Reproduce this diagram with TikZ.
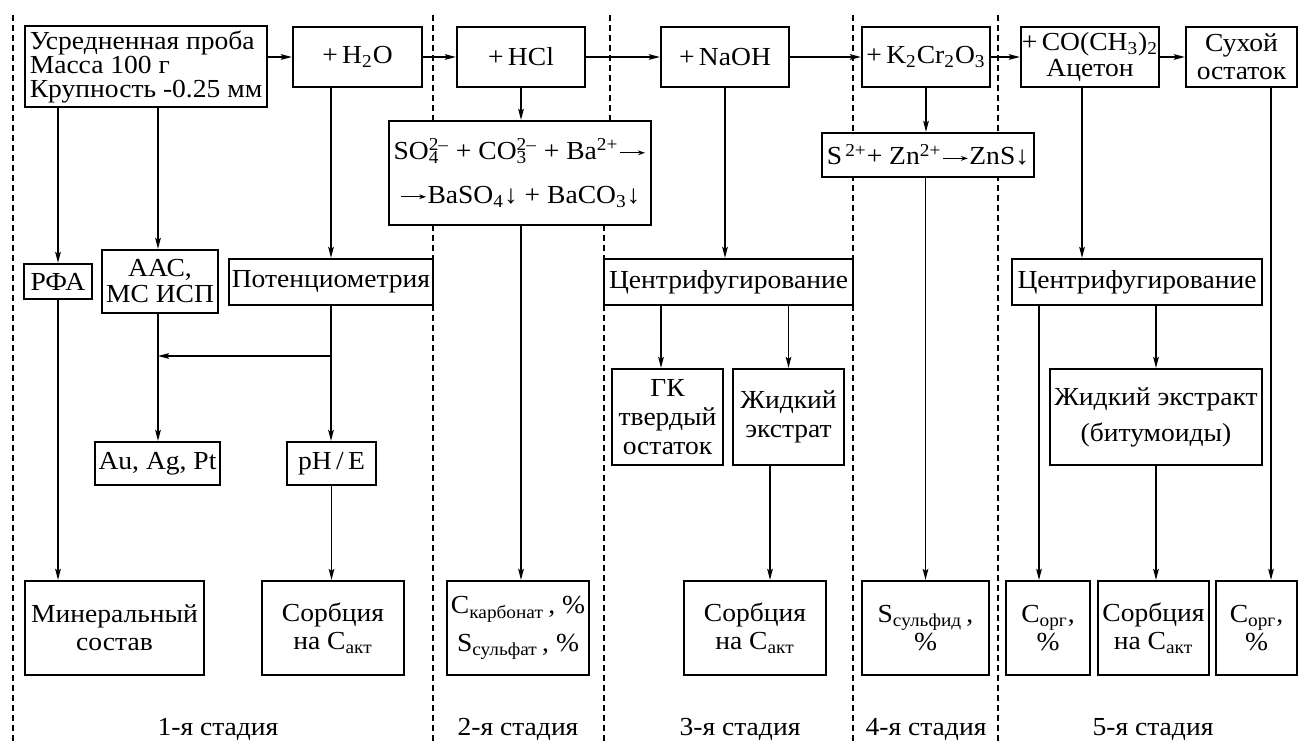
\documentclass[tikz,border=0pt]{standalone}
\usepackage{fontspec}
\setmainfont{Liberation Serif}[FakeStretch=1.06]
\usetikzlibrary{arrows.meta}
\newcommand\myfs{\fontsize{13}{14}\selectfont}
\newcommand\supsub[2]{\setbox0=\hbox{\textsuperscript{#1}}\setbox2=\hbox{\textsubscript{#2}}\ifdim\wd0>\wd2 \rlap{\box2}\box0 \else\rlap{\box0}\box2 \fi}
\newcommand\rarr{\kern0.5pt\tikz[baseline=0pt]\draw[line width=0.5pt,-{Stealth[length=3.5pt,width=2.4pt]}] (0pt,3.3pt) -- (12.5pt,3.3pt);\kern0.5pt}
\newcommand\mybox[7]{\pgfmathsetmacro\myw{(#4-#2)*0.5}\pgfmathsetmacro\myh{(#5-#3)*0.5}%
  \node[box,#6,minimum width=\myw pt,minimum height=\myh pt] (#1) at ({(#2+#4)/2},{(#3+#5)/2}) {#7};}
\tikzset{
  box/.style={draw, line width=1.1pt, fill=white, inner sep=0pt, align=center, font=\myfs},
  arr/.style={line width=0.7pt, -{Stealth[length=5.5pt,width=2.8pt,inset=1pt]}},
  sep/.style={line width=1pt, dash pattern=on 3pt off 2pt},
  stage/.style={font=\myfs, anchor=base, inner sep=0pt}
}
\begin{document}
\begin{tikzpicture}[x=0.5pt,y=-0.5pt]
\useasboundingbox (0,0) rectangle (1299,744);
% stage separators
\draw[sep] (13,15) -- (13,744);
\draw[sep] (433,15) -- (433,744);
\draw[sep] (610,15) -- (610,121);
\draw[sep] (604,225) -- (604,744);
\draw[sep] (853,15) -- (853,744);
\draw[sep] (998,15) -- (998,744);
% top row
\mybox{top}{25}{26}{267}{107}{align=left, font=\fontsize{13}{12}\selectfont}{Усредненная проба\\Масса 100 г\\Крупность -0.25 мм}
\mybox{h2o}{293}{27}{422}{87}{}{+\,H\textsubscript{2}O}
\mybox{hcl}{457}{27}{585}{87}{}{+\,HCl}
\mybox{naoh}{661}{27}{789}{87}{}{+\,NaOH}
\mybox{kcr}{862}{27}{990}{87}{}{+\,K\textsubscript{2}Cr\textsubscript{2}O\textsubscript{3}}
\mybox{acet}{1021}{27}{1159}{87}{font=\fontsize{13}{13}\selectfont}{+\,CO(CH\textsubscript{3})\textsubscript{2}\\Ацетон}
\mybox{dry}{1186}{27}{1297}{87}{}{Сухой\\остаток}
% reactions
\mybox{so4}{389}{121}{651}{225}{font=\fontsize{13}{22}\selectfont}{SO\supsub{2–}{4} + CO\supsub{2–}{3} + Ba\textsuperscript{2+}\rarr\\\rarr BaSO\textsubscript{4}↓ + BaCO\textsubscript{3}↓}
\mybox{s2}{822}{133}{1034}{177}{}{S\textsuperscript{\,2+}+ Zn\textsuperscript{2+}\rarr ZnS↓}
% methods row
\mybox{rfa}{24}{264}{92}{299}{}{РФА}
\mybox{aac}{102}{250}{218}{313}{font=\fontsize{13}{13}\selectfont}{ААС,\\МС ИСП}
\mybox{pot}{229}{259}{433}{305}{}{Потенциометрия}
\mybox{cf3}{604}{259}{853}{305}{}{Центрифугирование}
\mybox{cf5}{1012}{259}{1262}{305}{}{Центрифугирование}
% intermediate row
\mybox{au}{95}{442}{220}{485}{}{Au, Ag, Pt}
\mybox{ph}{287}{442}{376}{485}{}{pH\,/\,E}
\mybox{gk}{612}{369}{723}{465}{font=\fontsize{13}{14.5}\selectfont}{ГК\\твердый\\остаток}
\mybox{zh3}{733}{369}{844}{465}{font=\fontsize{13}{14.5}\selectfont}{Жидкий\\экстрат}
\mybox{zh5}{1050}{369}{1262}{465}{font=\fontsize{13}{18}\selectfont}{Жидкий экстракт\\(битумоиды)}
% results row
\mybox{min}{25}{581}{204}{675}{}{Минеральный\\состав}
\mybox{sorb1}{262}{581}{404}{675}{}{Сорбция\\на C\textsubscript{акт}}
\mybox{c2}{447}{581}{589}{675}{font=\fontsize{13}{19}\selectfont}{C\textsubscript{карбонат}\,, \%\\S\textsubscript{сульфат}\,, \%}
\mybox{sorb3}{684}{581}{826}{675}{}{Сорбция\\на C\textsubscript{акт}}
\mybox{sbox}{862}{581}{989}{675}{}{S\textsubscript{сульфид}\,,\\\%}
\mybox{corg1}{1006}{581}{1090}{675}{}{C\textsubscript{орг},\\\%}
\mybox{sorb5}{1098}{581}{1209}{675}{}{Сорбция\\на C\textsubscript{акт}}
\mybox{corg2}{1216}{581}{1297}{675}{}{C\textsubscript{орг},\\\%}
% stage labels
\node[stage] (st1) at (218,735) {1-я стадия};
\node[stage] (st2) at (518,735) {2-я стадия};
\node[stage] (st3) at (740,735) {3-я стадия};
\node[stage] (st4) at (926,735) {4-я стадия};
\node[stage] (st5) at (1153,735) {5-я стадия};
% horizontal chain
\draw[arr] (top.east |- h2o.west) -- (h2o.west);
\draw[arr] (h2o.east) -- (hcl.west);
\draw[arr] (hcl.east) -- (naoh.west);
\draw[arr] (naoh.east) -- (kcr.west);
\draw[arr] (kcr.east) -- (acet.west);
\draw[arr] (acet.east) -- (dry.west);
% stage 1
\draw[arr] (rfa.north |- top.south) -- (rfa.north);
\draw[arr] (158,0 |- top.south) -- (158,0 |- aac.north);
\draw[arr] (pot.north |- h2o.south) -- (pot.north);
\draw[arr] (158,0 |- aac.south) -- (158,0 |- au.north);
\draw[arr] (pot.south) -- (pot.south |- ph.north);
\coordinate (j1) at (331,356);
\draw[arr] (j1) -- (158,0 |- j1);
\draw[arr] (rfa.south) -- (rfa.south |- min.north);
\draw[arr] (ph.south) -- (ph.south |- sorb1.north);
% stage 2
\draw[arr] (hcl.south) -- (hcl.south |- so4.north);
\draw[arr] (hcl.south |- so4.south) -- (hcl.south |- c2.north);
% stage 3
\draw[arr] (naoh.south) -- (naoh.south |- cf3.north);
\draw[arr] (661,0 |- cf3.south) -- (661,0 |- gk.north);
\draw[arr] (zh3.north |- cf3.south) -- (zh3.north);
\draw[arr] (770,0 |- zh3.south) -- (770,0 |- sorb3.north);
% stage 4
\draw[arr] (kcr.south) -- (kcr.south |- s2.north);
\draw[arr] (sbox.north |- s2.south) -- (sbox.north);
% stage 5
\draw[arr] (1082,0 |- acet.south) -- (1082,0 |- cf5.north);
\draw[arr] (1039,0 |- cf5.south) -- (1039,0 |- corg1.north);
\draw[arr] (zh5.north |- cf5.south) -- (zh5.north);
\draw[arr] (zh5.south) -- (zh5.south |- sorb5.north);
\draw[arr] (1271,0 |- dry.south) -- (1271,0 |- corg2.north);
\end{tikzpicture}
\end{document}
